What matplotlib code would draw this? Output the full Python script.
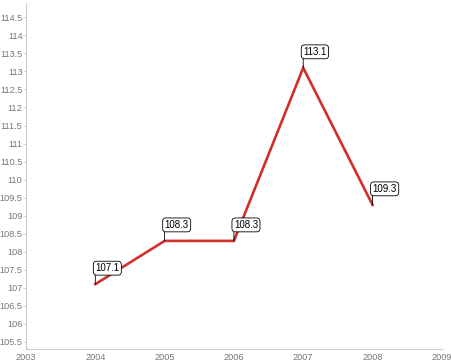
import matplotlib
matplotlib.use("Agg")
import matplotlib.pyplot as plt

plt.rcParams["font.family"] = ["Liberation Sans", "DejaVu Sans"]

# données
years = [2004, 2005, 2006, 2007, 2008]
values = [107.1, 108.3, 108.3, 113.1, 109.3]
labels = ["107.1", "108.3", "108.3", "113.1", "109.3"]
x_ticks = [2003, 2004, 2005, 2006, 2007, 2008, 2009]
y_ticks = [105.5, 106, 106.5, 107, 107.5, 108, 108.5, 109, 109.5, 110,
           110.5, 111, 111.5, 112, 112.5, 113, 113.5, 114, 114.5]

grey = "#cccccc"
txt = "#777777"

fig = plt.figure(figsize=(4.52, 3.64), dpi=100)
ax = fig.add_axes([0.0575, 0.041, 0.92, 0.951])

ax.plot(years, values, color="#d0302b", linewidth=1.9, solid_joinstyle="miter")

# étiquettes en bulle
for x, y, lab in zip(years, values, labels):
    ax.annotate(lab, xy=(x, y), xytext=(0, 11), textcoords="offset pixels",
                ha="left", va="bottom", fontsize=7, color="black",
                bbox=dict(boxstyle="round,pad=0.2,rounding_size=0.35",
                          fc="white", ec="black", lw=0.6),
                arrowprops=dict(arrowstyle="-", color="black", lw=0.6,
                                shrinkA=0, shrinkB=0, relpos=(0, 0)))

ax.set_xlim(2003, 2009)
ax.set_ylim(105.3, 114.9)
ax.set_xticks(x_ticks)
ax.set_xticklabels([str(t) for t in x_ticks])
ax.set_yticks(y_ticks)
ax.set_yticklabels([f"{t:g}" for t in y_ticks])

for s in ["top", "right"]:
    ax.spines[s].set_visible(False)
for s in ["left", "bottom"]:
    ax.spines[s].set_color(grey)
    ax.spines[s].set_linewidth(0.8)

ax.tick_params(axis="y", length=2, width=0.6, color=grey, labelsize=6.6,
               labelcolor=txt, pad=0.5)
ax.tick_params(axis="x", length=0, labelsize=6.6, labelcolor=txt, pad=3)

fig.savefig("out.png", dpi=100)
